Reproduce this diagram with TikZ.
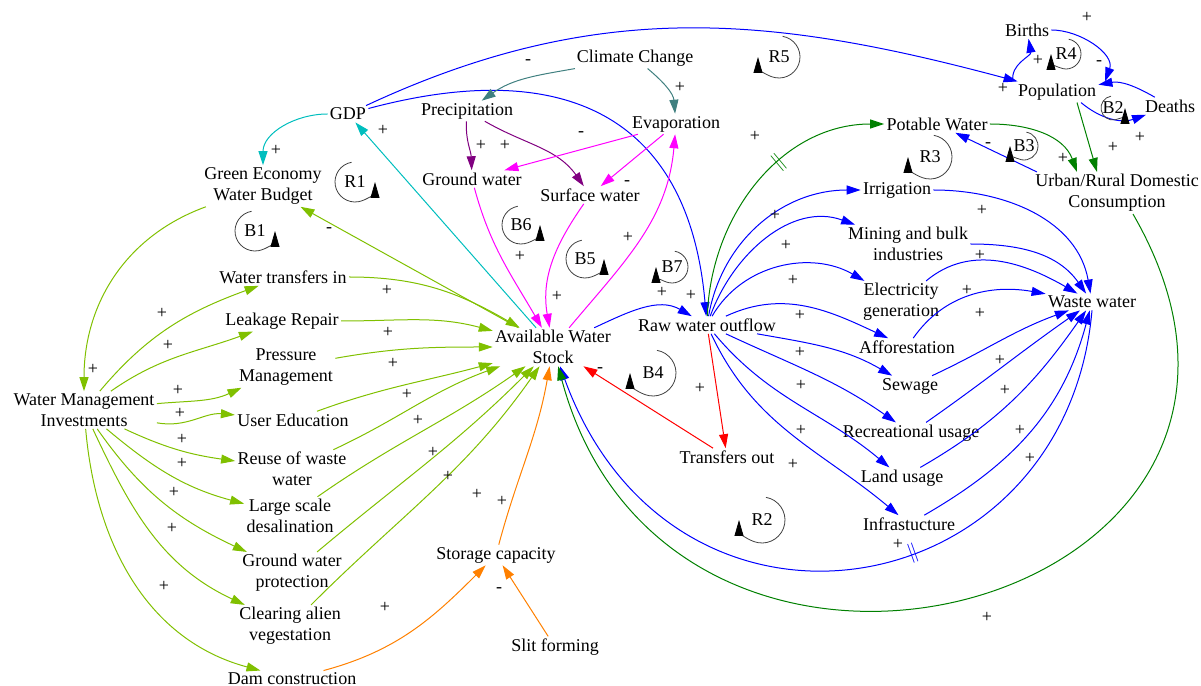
\documentclass[tikz,border=0pt]{standalone}
\usepackage{fontspec}
\setmainfont{Liberation Serif}
\usetikzlibrary{arrows.meta}

\definecolor{lgreen}{RGB}{128,192,0}
\definecolor{cyn}{RGB}{0,190,190}
\definecolor{tl}{RGB}{64,128,128}
\definecolor{pur}{RGB}{128,0,128}
\definecolor{mag}{RGB}{255,0,255}
\definecolor{dgreen}{RGB}{0,128,0}
\definecolor{org}{RGB}{255,128,0}
\definecolor{bl}{RGB}{0,0,255}
\definecolor{rd}{RGB}{255,0,0}

\begin{document}
\begin{tikzpicture}[x=0.5pt, y=0.5pt, >={Triangle[length=7pt,width=4.5pt]},
    font=\fontsize{9}{10.5}\selectfont,
    var/.style={align=center, inner sep=1pt},
    lk/.style={->, line width=0.5pt},
    pol/.style={inner sep=0pt},
    dly/.style={sloped, inner sep=0pt, font=\fontsize{10}{10}\selectfont},
    loopc/.style={-{Triangle[length=8pt,width=4.5pt,color=black]}, line width=0.4pt, black!75},
    lbl/.style={inner sep=0pt}]
    \useasboundingbox (0,0) rectangle (1201,686);

    % 1. Variables
    \node[var] (GDP) at (348,572) {GDP};
    \node[var] (green) at (263,500) {Green Economy\\Water Budget};
    \node[var] (climate) at (635,628) {Climate Change};
    \node[var] (precip) at (467,575) {Precipitation};
    \node[var] (evap) at (676,562) {Evaporation};
    \node[var] (ground) at (472,507) {Ground water};
    \node[var] (surface) at (590,491) {Surface water};
    \node[var] (births) at (1027,656) {Births};
    \node[var] (pop) at (1057,594) {Population};
    \node[var] (deaths) at (1170,580) {Deaths};
    \node[var] (potable) at (937,562) {Potable Water};
    \node[var] (urban) at (1117,493) {Urban/Rural Domestic\\Consumption};
    \node[var] (irrig) at (897,496) {Irrigation};
    \node[var] (mining) at (908,442) {Mining and bulk\\industries};
    \node[var] (elec) at (901,384) {Electricity\\generation};
    \node[var] (affor) at (907,339) {Afforestation};
    \node[var] (sewage) at (910,300) {Sewage};
    \node[var] (recre) at (911,253) {Recreational usage};
    \node[var] (land) at (902,208) {Land usage};
    \node[var] (infra) at (909,162) {Infrastucture};
    \node[var] (waste) at (1092,384) {Waste water};
    \node[var] (raw) at (707,361) {Raw water outflow};
    \node[var] (avail) at (553,339) {Available Water\\Stock};
    \node[var] (tout) at (727,229) {Transfers out};
    \node[var] (wtin) at (283,409) {Water transfers in};
    \node[var] (leak) at (282,365) {Leakage Repair};
    \node[var] (press) at (286,319) {Pressure\\Management};
    \node[var] (edu) at (293,266) {User Education};
    \node[var] (reuse) at (292,217) {Reuse of waste\\water};
    \node[var] (desal) at (290,170) {Large scale\\desalination};
    \node[var] (gwp) at (292,113) {Ground water\\protection};
    \node[var] (alien) at (290,60) {Clearing alien\\vegestation};
    \node[var] (dam) at (292,7) {Dam construction};
    \node[var] (storage) at (496,131) {Storage capacity};
    \node[var] (slit) at (555,39) {Slit forming};
    \node[var] (wmi) at (84,276) {Water Management\\Investments};

    % 2. Links at the top
    \draw[lk, cyn] (GDP) to[out=180,in=90] (green);
    \draw[lk, cyn] (avail) -- (GDP);
    \draw[lk, bl] (GDP) to[out=25,in=165] (pop);
    \draw[lk, bl] (GDP) to[out=15,in=95,looseness=1.3] (raw);
    \draw[lk, lgreen] (avail) -- (green);
    \draw[lk, lgreen] (green) to[out=200,in=90] (wmi);
    \draw[lk, tl] (climate) to[out=190,in=35] (precip);
    \draw[lk, tl] (climate) to[out=-40,in=95] (evap);
    \draw[lk, pur] (precip) to[out=-93,in=92] (ground);
    \draw[lk, pur] (precip) to[out=-30,in=125] (surface);
    \draw[lk, mag] (evap) -- (ground);
    \draw[lk, mag] (evap) -- (surface);
    \draw[lk, mag] (ground) to[out=-75,in=120] (avail);
    \draw[lk, mag] (surface) to[out=-125,in=100] (avail);
    \draw[lk, mag] (avail) to[out=50,in=-95] (evap);

    % 3. Raw water outflow and its uses
    \draw[lk, bl] (avail) to[out=25,in=150] (raw);
    \draw[lk, dgreen] (raw) to[out=88,in=180] node[dly,pos=.6] (dm1) {$\|$} (potable);
    \draw[lk, bl] (raw) to[out=80,in=180] (irrig);
    \draw[lk, bl] (raw) to[out=70,in=160] (mining);
    \draw[lk, bl] (raw) to[out=60,in=150] (elec);
    \draw[lk, bl] (raw) to[out=25,in=155] (affor);
    \draw[lk, bl] (raw) to[out=-10,in=150] (sewage);
    \draw[lk, bl] (raw) to[out=-25,in=145] (recre);
    \draw[lk, bl] (raw) to[out=-50,in=140] (land);
    \draw[lk, bl] (raw) to[out=-65,in=140] (infra);
    \draw[lk, rd] (raw) -- (tout);
    \draw[lk, rd] (tout) -- (avail);

    % Uses into waste water
    \draw[lk, bl] (irrig) to[out=0,in=100] (waste);
    \draw[lk, bl] (mining) to[out=0,in=125] (waste);
    \draw[lk, bl] (elec) to[out=40,in=150] (waste);
    \draw[lk, bl] (affor) to[out=55,in=170] (waste);
    \draw[lk, bl] (sewage) to[out=25,in=200] (waste);
    \draw[lk, bl] (recre) to[out=35,in=215] (waste);
    \draw[lk, bl] (land) to[out=30,in=235] (waste);
    \draw[lk, bl] (infra) to[out=30,in=255] (waste);
    \draw[lk, bl] (waste.south) .. controls +(-95:300) and +(-70:330) .. (avail.-70)
        node[dly,pos=.42] (dm2) {$\|$};
    \draw[lk, dgreen] ([xshift=8]urban.south) .. controls +(-60:450) and +(-75:440) .. (avail.-75);

    % 4. Population
    \draw[lk, dgreen] (potable) to[out=0,in=110] ([xshift=-20]urban.north);
    \draw[lk, dgreen] ([xshift=10]pop.south) -- ([xshift=-10]urban.north);
    \draw[lk, bl] ([xshift=2]urban.north west) -- (potable);
    \draw[lk, bl] ([xshift=-22]pop.north) to[out=100,in=-80] (births);
    \draw[lk, bl] (births) to[out=0,in=70] ([xshift=24]pop.north);
    \draw[lk, bl] (deaths) to[out=150,in=10] (pop);
    \draw[lk, bl] ([xshift=12]pop.south) to[out=-40,in=200] (deaths);

    % 5. Water management investments
    \draw[lk, lgreen] (wmi) to[out=50,in=200] (wtin);
    \draw[lk, lgreen] (wmi) to[out=35,in=200] (leak);
    \draw[lk, lgreen] (wmi) to[out=5,in=205] (press);
    \draw[lk, lgreen] (wmi) to[out=-10,in=175] (edu);
    \draw[lk, lgreen] (wmi) to[out=-25,in=172] (reuse);
    \draw[lk, lgreen] (wmi) to[out=-40,in=165] (desal);
    \draw[lk, lgreen] (wmi) to[out=-55,in=155] (gwp);
    \draw[lk, lgreen] (wmi) to[out=-65,in=155] (alien);
    \draw[lk, lgreen] (wmi) to[out=-85,in=165] (dam);
    \draw[lk, lgreen] (wtin) to[out=0,in=150] (avail);
    \draw[lk, lgreen] (leak) to[out=0,in=165] (avail);
    \draw[lk, lgreen] (press) to[out=10,in=180] (avail);
    \draw[lk, lgreen] (edu) to[out=20,in=195] (avail);
    \draw[lk, lgreen] (reuse) to[out=25,in=200] (avail);
    \draw[lk, lgreen] (desal) to[out=35,in=215] (avail);
    \draw[lk, lgreen] (gwp) to[out=40,in=225] (avail);
    \draw[lk, lgreen] (alien) to[out=45,in=235] (avail);
    \draw[lk, org] (storage) to[out=75,in=-100] (avail);
    \draw[lk, org] (dam) to[out=15,in=225] (storage);
    \draw[lk, org] (slit) -- (storage);

    % 6. Polarities
    \node[pol] (p1) at (276,536) {+};
    \node[pol] (p2) at (383,556) {+};
    \node[pol] (p3) at (1003,598) {+};
    \node[pol] (p4) at (528,624) {-};
    \node[pol] (p5) at (680,599) {+};
    \node[pol] (p6) at (481,541) {+};
    \node[pol] (p7) at (505,541) {+};
    \node[pol] (p8) at (581,552) {-};
    \node[pol] (p9) at (627,503) {-};
    \node[pol] (p10) at (520,430) {+};
    \node[pol] (p11) at (557,390) {+};
    \node[pol] (p12) at (628,449) {+};
    \node[pol] (p13) at (662,394) {+};
    \node[pol] (p14) at (691,391) {+};
    \node[pol] (p15) at (755,550) {+};
    \node[pol] (p16) at (775,471) {+};
    \node[pol] (p17) at (786,441) {+};
    \node[pol] (p18) at (793,406) {+};
    \node[pol] (p19) at (800,371) {+};
    \node[pol] (p20) at (800,334) {+};
    \node[pol] (p21) at (801,301) {+};
    \node[pol] (p22) at (801,256) {+};
    \node[pol] (p23) at (793,222) {+};
    \node[pol] (p24) at (700,298) {+};
    \node[pol] (p25) at (600,316) {-};
    \node[pol] (p26) at (982,476) {+};
    \node[pol] (p27) at (980,431) {+};
    \node[pol] (p28) at (967,396) {+};
    \node[pol] (p29) at (980,373) {+};
    \node[pol] (p30) at (1000,326) {+};
    \node[pol] (p31) at (1005,296) {+};
    \node[pol] (p32) at (1020,256) {+};
    \node[pol] (p33) at (1030,228) {+};
    \node[pol] (p34) at (1063,528) {+};
    \node[pol] (p35) at (1113,539) {+};
    \node[pol] (p36) at (988,541) {-};
    \node[pol] (p37) at (1038,626) {+};
    \node[pol] (p38) at (1087,669) {+};
    \node[pol] (p39) at (1099,623) {-};
    \node[pol] (p40) at (1140,549) {+};
    \node[pol] (p41) at (93,317) {+};
    \node[pol] (p42) at (329,456) {-};
    \node[pol] (p43) at (162,373) {+};
    \node[pol] (p44) at (168,341) {+};
    \node[pol] (p45) at (178,296) {+};
    \node[pol] (p46) at (180,273) {+};
    \node[pol] (p47) at (182,247) {+};
    \node[pol] (p48) at (182,223) {+};
    \node[pol] (p49) at (174,194) {+};
    \node[pol] (p50) at (172,158) {+};
    \node[pol] (p51) at (164,100) {+};
    \node[pol] (p52) at (387,396) {+};
    \node[pol] (p53) at (388,354) {+};
    \node[pol] (p54) at (393,323) {+};
    \node[pol] (p55) at (407,292) {+};
    \node[pol] (p56) at (418,266) {+};
    \node[pol] (p57) at (433,234) {+};
    \node[pol] (p58) at (448,210) {+};
    \node[pol] (p59) at (477,192) {+};
    \node[pol] (p60) at (502,185) {+};
    \node[pol] (p61) at (385,79) {+};
    \node[pol] (p62) at (499,96) {-};
    \node[pol] (p63) at (987,69) {+};
    \node[pol] (p64) at (898,142) {+};

    % 7. Loop markers
    \node[lbl] (R1) at (355,504) {R1};
    \draw[loopc] ([shift={(100:20)}]R1.center) arc[start angle=100,end angle=360,radius=20];
    \node[lbl] (B1) at (255,455) {B1};
    \draw[loopc] ([shift={(100:20)}]B1.center) arc[start angle=100,end angle=360,radius=20];
    \node[lbl] (R5) at (779,629) {R5};
    \draw[loopc] ([shift={(80:21)}]R5.center) arc[start angle=80,end angle=-180,radius=21];
    \node[lbl] (R3) at (930,529) {R3};
    \draw[loopc] ([shift={(80:22)}]R3.center) arc[start angle=80,end angle=-180,radius=22];
    \node[lbl] (B3) at (1024,540) {B3};
    \draw[loopc] ([shift={(80:14)}]B3.center) arc[start angle=80,end angle=-180,radius=14];
    \node[lbl] (R4) at (1066,632) {R4};
    \draw[loopc] ([shift={(80:15)}]R4.center) arc[start angle=80,end angle=-180,radius=15];
    \node[lbl] (B2) at (1113,578) {B2};
    \draw[loopc] ([shift={(100:12)}]B2.center) arc[start angle=100,end angle=360,radius=12];
    \node[lbl] (B6) at (521,461) {B6};
    \draw[loopc] ([shift={(100:19)}]B6.center) arc[start angle=100,end angle=360,radius=19];
    \node[lbl] (B5) at (585,427) {B5};
    \draw[loopc] ([shift={(100:19)}]B5.center) arc[start angle=100,end angle=360,radius=19];
    \node[lbl] (B7) at (672,419) {B7};
    \draw[loopc] ([shift={(80:16)}]B7.center) arc[start angle=80,end angle=-180,radius=16];
    \node[lbl] (B4) at (653,313) {B4};
    \draw[loopc] ([shift={(80:23)}]B4.center) arc[start angle=80,end angle=-180,radius=23];
    \node[lbl] (R2) at (762,166) {R2};
    \draw[loopc] ([shift={(80:23)}]R2.center) arc[start angle=80,end angle=-180,radius=23];
\end{tikzpicture}
\end{document}
